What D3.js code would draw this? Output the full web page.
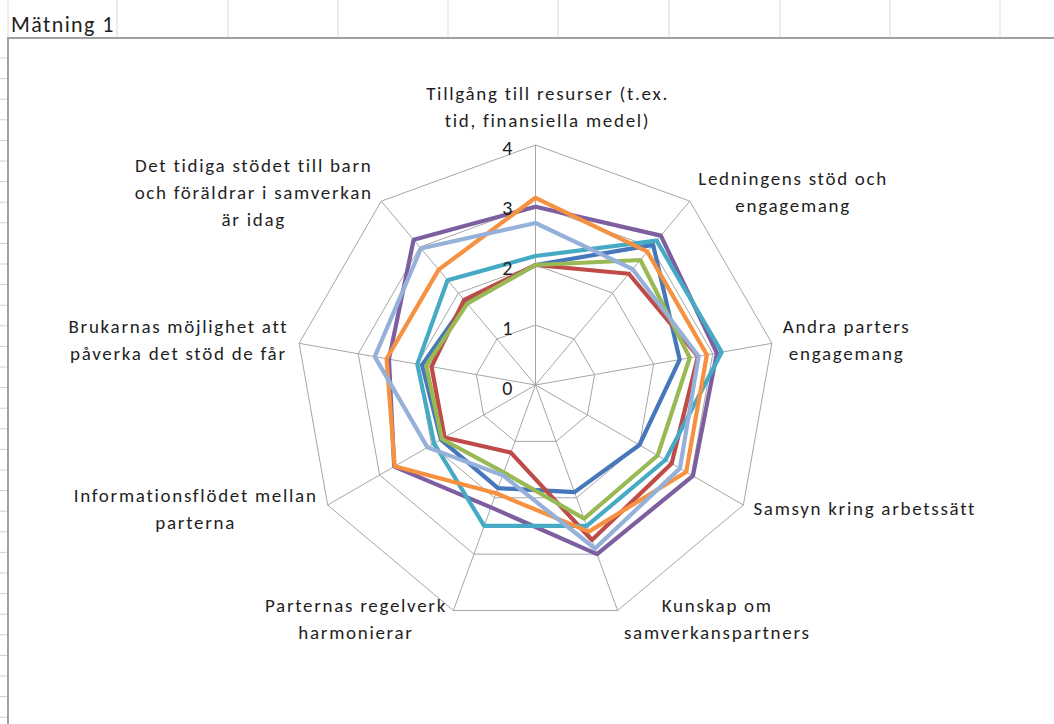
<html>
<head>
<meta charset="utf-8">
<script src="https://cdn.jsdelivr.net/npm/d3@7"></script>
<style>
  body { margin:0; background:#fff; }
  text { font-family: Carlito, Calibri, Lato, sans-serif; fill:#1f1f1f; }
  .grid { fill:none; stroke:#a6a6a6; stroke-width:1px; }
  .serie { fill:none; stroke-width:4.2px; stroke-linejoin:round; }
</style>
</head>
<body>
<script>
// axlar (kategorier) i klockvis ordning, med radbrytningar som i originalet
var categories = [
  ["Tillgång till resurser (t.ex.", "tid, finansiella medel)"],
  ["Ledningens stöd och", "engagemang"],
  ["Andra parters", "engagemang"],
  ["Samsyn kring arbetssätt"],
  ["Kunskap om", "samverkanspartners"],
  ["Parternas regelverk", "harmonierar"],
  ["Informationsflödet mellan", "parterna"],
  ["Brukarnas möjlighet att", "påverka det stöd de får"],
  ["Det tidiga stödet till barn", "och föräldrar i samverkan", "är idag"]
];
var ticks = [0, 1, 2, 3, 4];

// serievärden
var serie1 = [2.0, 3.05, 2.44, 2.0, 1.9, 1.83, 1.82, 1.92, 1.8];
var serie2 = [2.0, 2.42, 2.75, 2.62, 2.75, 1.2, 1.75, 1.76, 1.85];
var serie3 = [2.0, 2.72, 2.61, 2.35, 2.37, 1.55, 1.8, 1.85, 1.77];
var serie4 = [2.97, 3.25, 3.07, 3.03, 3.0, 2.17, 2.72, 2.48, 3.16];
var serie5 = [2.15, 3.14, 3.15, 2.5, 2.5, 2.5, 1.95, 2.0, 2.28];
var serie6 = [3.12, 2.9, 2.9, 2.9, 2.6, 1.92, 2.71, 2.52, 2.51];
var serie7 = [2.7, 2.52, 2.76, 2.78, 2.9, 1.6, 2.08, 2.72, 2.97];
var series = [serie1, serie2, serie3, serie4, serie5, serie6, serie7];
var colors = ["#4677BA", "#BE4B48", "#98B954", "#7D5FA0", "#46AAC5", "#F59141", "#95B1DA"];

var width = 1054, height = 724;
var cx = 535.5, cy = 385, R = 240;

var svg = d3.select("body").append("svg")
    .attr("width", width)
    .attr("height", height);

// kalkylbladet bakom diagrammet
var colLines = [8, 117, 228, 338, 448, 558, 669, 780, 890, 1000];
svg.selectAll(".col").data(colLines).enter().append("line")
   .attr("x1", function(d){ return d; }).attr("x2", function(d){ return d; })
   .attr("y1", 0).attr("y2", 38)
   .attr("stroke", "#d9d9d9");
svg.append("text")
   .attr("x", 11).attr("y", 32)
   .style("font-size", "22px")
   .style("letter-spacing", "1.4px")
   .text("Mätning 1");
svg.selectAll(".row").data(d3.range(58, 724, 20.6)).enter().append("line")
   .attr("x1", 0).attr("x2", 8)
   .attr("y1", function(d){ return d; }).attr("y2", function(d){ return d; })
   .attr("stroke", "#d0d0d0");

// diagramramen
svg.append("rect")
   .attr("x", 8).attr("y", 38)
   .attr("width", width + 10).attr("height", height)
   .attr("fill", "#fff")
   .attr("stroke", "#a0a0a0").attr("stroke-width", 2);

var r = d3.scaleLinear().domain([0, 4]).range([0, R]);
var n = categories.length;
var angle = function(i){ return i * 2 * Math.PI / n; };

var g = svg.append("g").attr("transform", "translate(" + cx + "," + cy + ")");

var radial = d3.lineRadial()
    .angle(function(d, i){ return angle(i); })
    .radius(function(d){ return r(d); })
    .curve(d3.curveLinearClosed);

// rutnät
ticks.slice(1).forEach(function(t){
  g.append("path").attr("class", "grid")
   .attr("d", radial(categories.map(function(){ return t; })));
});
g.selectAll(".spoke").data(categories).enter().append("line")
  .attr("class", "grid")
  .attr("x1", 0).attr("y1", 0)
  .attr("x2", function(d, i){ return r(4) * Math.sin(angle(i)); })
  .attr("y2", function(d, i){ return -r(4) * Math.cos(angle(i)); });

// serier
g.selectAll(".serie").data(series).enter().append("path")
  .attr("class", "serie")
  .attr("stroke", function(d, i){ return colors[i]; })
  .attr("d", radial);

// skalans etiketter
g.selectAll(".tick").data(ticks).enter().append("text")
  .attr("x", -23)
  .attr("y", function(d){ return -r(d) + 3; })
  .attr("dy", "0.35em")
  .attr("text-anchor", "end")
  .style("font-size", "20px")
  .text(function(d){ return d; });

// kategorietiketter
var lh = 27;
categories.forEach(function(lines, i){
  var a = angle(i), s = Math.sin(a), c = Math.cos(a);
  var vx = r(4) * s, vy = -r(4) * c;
  var lab = g.append("text")
    .style("font-size", "19px")
    .style("letter-spacing", "1.7px")
    .attr("text-anchor", "middle");
  lines.forEach(function(l, j){
    lab.append("tspan").attr("x", 0).attr("y", j * lh).text(l);
  });
  var w = lab.node().getBBox().width;
  var h = lines.length * lh;
  var x, ymid;
  var pad = 4 + 7 * Math.abs(s);
  if (s > 0.1) x = vx + pad + w / 2;
  else if (s < -0.1) x = vx - pad - w / 2;
  else x = vx + 12;
  if (Math.abs(s) <= 0.1) ymid = vy - 10 - h / 2;
  else ymid = vy - c * 10;
  lab.attr("transform", "translate(" + x + "," + (ymid - h / 2 + lh * 0.7) + ")");
});
</script>
</body>
</html>
